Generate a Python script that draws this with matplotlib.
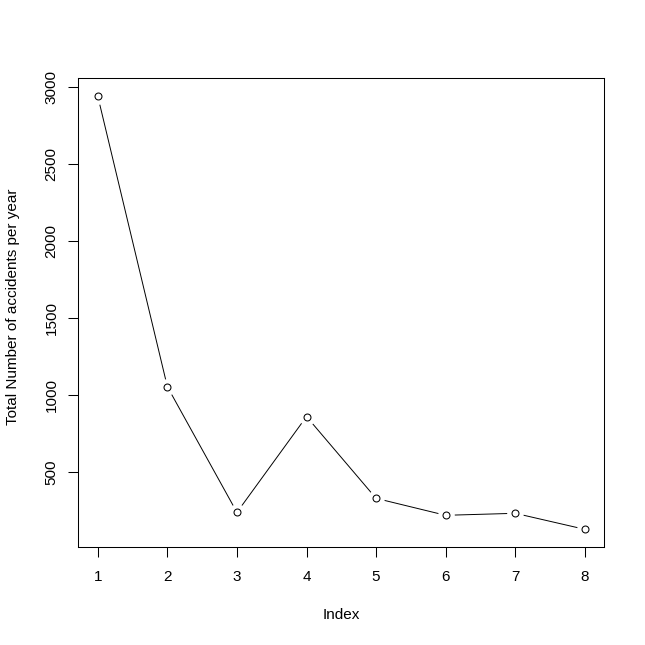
import matplotlib
matplotlib.use("Agg")
import matplotlib.pyplot as plt

# values
index = [1, 2, 3, 4, 5, 6, 7, 8]
accidents = [2942, 1056, 240, 862, 331, 221, 234, 130]
y_ticks = [500, 1000, 1500, 2000, 2500, 3000]

plt.rcParams["font.family"] = ["Liberation Sans", "DejaVu Sans"]
plt.rcParams["font.size"] = 11

fig = plt.figure(figsize=(6.45, 6.45), dpi=100)
ax = fig.add_axes([0.1214, 0.1514, 0.8155, 0.7272])

# type="b" style: line broken around each point
ax.plot(index, accidents, color="black", lw=0.7, zorder=1)
ax.plot(index, accidents, ls="none", marker="o", ms=12,
        mfc="white", mec="none", zorder=2)
ax.plot(index, accidents, ls="none", marker="o", ms=5,
        mfc="white", mec="black", mew=0.75, zorder=3)

ax.set_xlim(0.72, 8.28)
ax.set_ylim(13, 3058)
ax.set_xticks(index)
ax.set_yticks(y_ticks)
ax.set_yticklabels([str(v) for v in y_ticks], rotation=90, va="center")

for side in ax.spines.values():
    side.set_linewidth(0.75)
ax.tick_params(direction="out", length=7.2, width=0.75, pad=7)
ax.tick_params(axis="x", pad=9)

ax.set_xlabel("Index", va="center")
ax.xaxis.set_label_coords(0.5, -0.1443)
ax.set_ylabel("Total Number of accidents per year", va="center")
ax.yaxis.set_label_coords(-0.124, 0.513)

fig.savefig("out.png", dpi=100)
